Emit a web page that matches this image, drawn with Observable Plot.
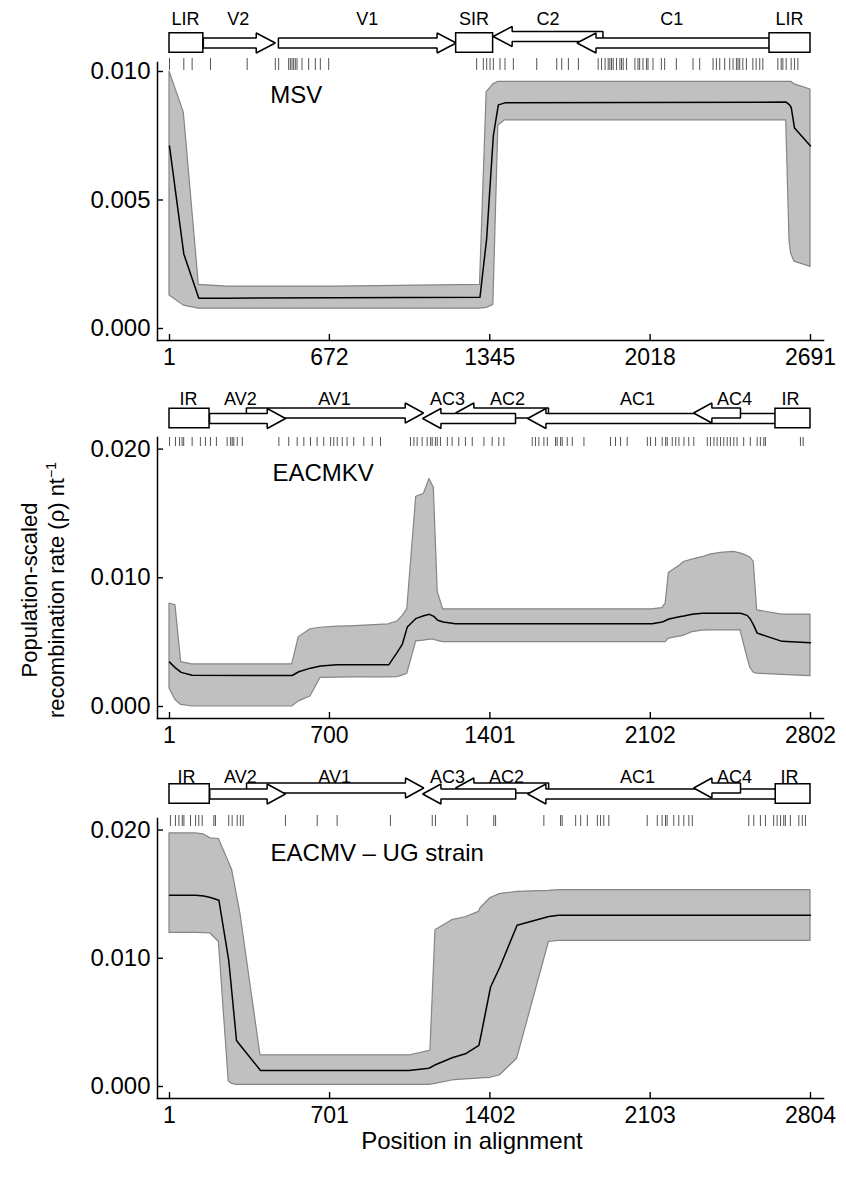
<!DOCTYPE html>
<html><head><meta charset="utf-8">
<script src="https://cdn.jsdelivr.net/npm/d3@7"></script>
<script src="https://cdn.jsdelivr.net/npm/@observablehq/plot@0.6"></script>
<style>
body{margin:0;background:#fff;}
#fig{position:relative;width:846px;height:1180px;font-family:"Liberation Sans",Arial,sans-serif;overflow:hidden;}
#fig svg{position:absolute;left:0;}
.ytitle{position:absolute;left:43px;top:590px;transform:translate(-50%,-50%) rotate(-90deg);text-align:center;white-space:nowrap;font-size:22px;line-height:27px;}
.xtitle{position:absolute;left:472px;top:1141px;transform:translate(-50%,-50%);white-space:nowrap;font-size:24px;}
</style></head><body><div id="fig"></div>
<script>
// ---------------- MSV ----------------
const msvPos = [1, 61, 124, 243, 700, 1304, 1332, 1360, 1381, 1409, 2589, 2603, 2610, 2624, 2691];
const msvRho = [0.0071, 0.0029, 0.00118, 0.00118, 0.0012, 0.00122, 0.0035, 0.0075, 0.0087, 0.00878, 0.00881, 0.0087, 0.0086, 0.0078, 0.0071];
const msvHi  = [0.0100, 0.0084, 0.0017, 0.00163, 0.00163, 0.0017, 0.0092, 0.0095, 0.0096, 0.0096, 0.0096, 0.0096, 0.0096, 0.0095, 0.0093];
const msvLo  = [0.00128, 0.00089, 0.00077, 0.00077, 0.00077, 0.00077, 0.0008, 0.00092, 0.0079, 0.0081, 0.0081, 0.0034, 0.0029, 0.0026, 0.0024];
const msvXTicks = [1, 672, 1345, 2018, 2691];
const msvYTicks = [0, 0.005, 0.010];
const msvGeneNames  = ["LIR", "V2", "V1", "SIR", "C2", "C1", "LIR"];
const msvGeneStart  = [1, 143, 458, 1204, 1359, 1711, 2519];
const msvGeneEnd    = [143, 445, 1204, 1359, 1820, 2519, 2691];
const msvGeneType   = ["box", "fwd", "fwd", "box", "rev", "rev", "box"];
const msvGeneLane   = [0, 0, 0, 0, 1, 0, 0];
const msvGeneLabel  = [68, 290, 831, 1279, 1589, 2109, 2603];
const msvRug = [1,61,96,173,327,445,459,501,508,515,522,529,536,557,585,613,634,669,1290,1318,1332,1346,1360,1388,1409,1444,1542,1626,1647,1675,1717,1800,1814,1829,1842,1849,1856,1863,1877,1891,1898,1905,1919,1954,1967,1974,1988,2003,2009,2030,2065,2079,2128,2198,2226,2282,2296,2310,2331,2352,2366,2380,2387,2394,2407,2422,2449,2463,2478,2491,2554,2568,2575,2589,2610,2624,2638];

// ---------------- EACMKV ----------------
const kvPos = [1, 27, 52, 100, 537, 566, 617, 661, 734, 792, 959, 996, 1018, 1040, 1079, 1112, 1137, 1156, 1173, 1197, 1251, 1448, 2110, 2154, 2169, 2183, 2234, 2249, 2285, 2329, 2365, 2409, 2467, 2496, 2525, 2539, 2554, 2569, 2678, 2802];
const kvRho = [0.00345, 0.0030, 0.00265, 0.00243, 0.00241, 0.0027, 0.00298, 0.00314, 0.00324, 0.00324, 0.00324, 0.0042, 0.00482, 0.00617, 0.00685, 0.00705, 0.00716, 0.0070, 0.0067, 0.00656, 0.00643, 0.00643, 0.00643, 0.00656, 0.00668, 0.0068, 0.0070, 0.00703, 0.00716, 0.00724, 0.00724, 0.00724, 0.00724, 0.00724, 0.00708, 0.0068, 0.0063, 0.0057, 0.00506, 0.00496];
const kvHi  = [0.0080, 0.00786, 0.00345, 0.00327, 0.00327, 0.00539, 0.0060, 0.00612, 0.0062, 0.00623, 0.00638, 0.0066, 0.0070, 0.00755, 0.0163, 0.0165, 0.01767, 0.0170, 0.0089, 0.00755, 0.00755, 0.00755, 0.00755, 0.00765, 0.0080, 0.01037, 0.0110, 0.01123, 0.01141, 0.0116, 0.0118, 0.01193, 0.01201, 0.0119, 0.0117, 0.01157, 0.01123, 0.00747, 0.00714, 0.00714];
const kvLo  = [0.0014, 0.0005, 0.00012, 0.0, 0.0, 0.0004, 0.00078, 0.00223, 0.00225, 0.00226, 0.00227, 0.00228, 0.0024, 0.00254, 0.00506, 0.00512, 0.00519, 0.00519, 0.0051, 0.0050, 0.0050, 0.0050, 0.0050, 0.0050, 0.0050, 0.00527, 0.00545, 0.0055, 0.00578, 0.0059, 0.00591, 0.00591, 0.00591, 0.00591, 0.0039, 0.0030, 0.00262, 0.00255, 0.00245, 0.00236];
const kvXTicks = [1, 700, 1401, 2102, 2802];
const kvYTicks = [0, 0.010, 0.020];
const kvGeneNames = ["IR", "AV1", "AV2", "AC2", "AC3", "AC1", "AC4", "IR"];
const kvGeneStart = [1, 337, 176, 1251, 1107, 1566, 2291, 2649];
const kvGeneEnd   = [176, 1111, 508, 1657, 1513, 2649, 2496, 2802];
const kvGeneType  = ["box", "fwd", "fwd", "rev", "rev", "rev", "rev", "box"];
const kvGeneLane  = [0, 1, 0, 1, 0, 0, 1, 0];
const kvGeneLabel = [84, 722, 311, 1478, 1216, 2046, 2470, 2715];
const kvRug = [1,27,45,56,63,100,136,158,180,206,253,268,275,282,297,319,479,522,559,588,617,646,675,705,719,734,756,777,806,850,887,923,1054,1069,1083,1105,1127,1142,1149,1163,1171,1185,1215,1236,1265,1294,1324,1375,1411,1440,1462,1586,1600,1615,1637,1652,1688,1695,1710,1717,1739,1761,1812,1928,1950,1972,2001,2089,2103,2125,2154,2169,2176,2198,2213,2227,2249,2270,2292,2351,2365,2380,2394,2409,2423,2438,2452,2467,2481,2510,2539,2569,2583,2598,2605,2758,2770];

// ---------------- EACMV - UG strain ----------------
const ugPos = [1, 115, 151, 180, 217, 260, 275, 294, 311, 399, 1048, 1135, 1142, 1164, 1237, 1295, 1354, 1361, 1405, 1445, 1521, 1660, 1703, 2804];
const ugRho = [0.01492, 0.01492, 0.01485, 0.01474, 0.01453, 0.00984, 0.0071, 0.00359, 0.0032, 0.00125, 0.00125, 0.00143, 0.00148, 0.0017, 0.00224, 0.00255, 0.0032, 0.0038, 0.00776, 0.00928, 0.01258, 0.01326, 0.01336, 0.01336];
const ugHi  = [0.01974, 0.01974, 0.01966, 0.01935, 0.0193, 0.0175, 0.01688, 0.0151, 0.01349, 0.00242, 0.00242, 0.00276, 0.00281, 0.01219, 0.01297, 0.0132, 0.01362, 0.0139, 0.0147, 0.0150, 0.01518, 0.01526, 0.01531, 0.01531];
const ugLo  = [0.01198, 0.01198, 0.01196, 0.01193, 0.01127, 0.00039, 0.0002, 0.00013, 0.00013, 0.00013, 0.00013, 0.00013, 0.00015, 0.0002, 0.00047, 0.00055, 0.00062, 0.00063, 0.00068, 0.00086, 0.00216, 0.01127, 0.01135, 0.01135];
const ugXTicks = [1, 701, 1402, 2103, 2804];
const ugYTicks = [0, 0.010, 0.020];
const ugGeneNames = ["IR", "AV1", "AV2", "AC2", "AC3", "AC1", "AC4", "IR"];
const ugGeneStart = [1, 338, 177, 1252, 1108, 1567, 2293, 2652];
const ugGeneEnd   = [177, 1113, 508, 1659, 1515, 2652, 2498, 2804];
const ugGeneType  = ["box", "fwd", "fwd", "rev", "rev", "rev", "rev", "box"];
const ugGeneLane  = [0, 1, 0, 1, 0, 0, 1, 0];
const ugGeneLabel = [75, 723, 311, 1475, 1217, 2048, 2472, 2712];
const ugRug = [5,27,42,57,64,93,115,129,144,195,202,260,275,297,311,323,508,647,734,967,1150,1164,1303,1419,1427,1638,1711,1718,1777,1799,1828,1872,1886,1900,1922,2090,2134,2155,2170,2177,2206,2228,2250,2272,2287,2534,2556,2585,2607,2643,2658,2673,2687,2694,2716,2753,2768,2782];

// panel titles: [label, x (alignment position), y (rho)]
const panelTitles = [
  ["MSV", 424, 0.00907],
  ["EACMKV", 451, 0.01813],
  ["EACMV \u2013 UG strain", 443, 0.0182]
];

// ---------------- drawing ----------------
const FONT = "'Liberation Sans', Arial, Helvetica, sans-serif";
const fig = document.getElementById("fig");

const panels = [
  {pos: msvPos, rho: msvRho, hi: msvHi, lo: msvLo, xt: msvXTicks, yt: msvYTicks, title: panelTitles[0],
   names: msvGeneNames, starts: msvGeneStart, ends: msvGeneEnd, types: msvGeneType, lanes: msvGeneLane, labels: msvGeneLabel, rug: msvRug,
   top: 0, height: 380, mt: 62, mb: 40, ymax: 0.01035,
   mapTop: 0, lower: 42.5, upper: 36, labelY: 19, rug1: 58, rug2: 70},
  {pos: kvPos, rho: kvRho, hi: kvHi, lo: kvLo, xt: kvXTicks, yt: kvYTicks, title: panelTitles[1],
   names: kvGeneNames, starts: kvGeneStart, ends: kvGeneEnd, types: kvGeneType, lanes: kvGeneLane, labels: kvGeneLabel, rug: kvRug,
   top: 380, height: 380, mt: 57, mb: 42, ymax: 0.0209,
   mapTop: 380, lower: 38, upper: 32.5, labelY: 18.5, rug1: 57, rug2: 66},
  {pos: ugPos, rho: ugRho, hi: ugHi, lo: ugLo, xt: ugXTicks, yt: ugYTicks, title: panelTitles[2],
   names: ugGeneNames, starts: ugGeneStart, ends: ugGeneEnd, types: ugGeneType, lanes: ugGeneLane, labels: ugGeneLabel, rug: ugRug,
   top: 760, height: 420, mt: 58, mb: 82, ymax: 0.0209,
   mapTop: 760, lower: 33.5, upper: 27.5, labelY: 17, rug1: 55, rug2: 66}
];

const HEAD = 80;      // arrow head length in alignment positions
const SHAFT = 5;      // half shaft height (px)
const HEADH = 10;     // half head height (px)
const BOXH = 9.75;    // half box height (px)

for (const p of panels) {
  const xmax = p.xt[p.xt.length - 1];
  const data = p.pos.map((x, i) => ({pos: x, rho: p.rho[i], lo: p.lo[i], hi: p.hi[i]}));
  const chart = Plot.plot({
    width: 846, height: p.height,
    marginLeft: 157, marginRight: 23, marginTop: p.mt, marginBottom: p.mb,
    x: {domain: [1, xmax], insetLeft: 12, insetRight: 13},
    y: {domain: [0, p.ymax], insetBottom: 12},
    style: {fontFamily: FONT, fontSize: "23px", background: "none", color: "black", overflow: "visible"},
    marks: [
      Plot.areaY(data, {x: "pos", y1: "lo", y2: "hi", fill: "#c0c0c0", stroke: "#858585", strokeWidth: 1.2}),
      Plot.line(data, {x: "pos", y: "rho", stroke: "black", strokeWidth: 1.5}),
      Plot.text([p.title], {x: d => d[1], y: d => d[2], text: d => d[0], textAnchor: "start", fontSize: 24, fill: "black"}),
      Plot.frame({anchor: "left", stroke: "black", strokeWidth: 1.5}),
      Plot.frame({anchor: "bottom", stroke: "black", strokeWidth: 1.5}),
      Plot.axisX(p.xt, {tickSize: -6, tickFormat: () => "", label: null, strokeWidth: 1.4}),
      Plot.axisX(p.xt, {tickSize: 0, tickPadding: 8, label: null, tickFormat: d3.format("d")}),
      Plot.axisY(p.yt, {tickSize: -6, tickFormat: () => "", label: null, strokeWidth: 1.4}),
      Plot.axisY(p.yt, {tickSize: 0, tickPadding: 7, label: null, fontSize: 24, tickFormat: d3.format(".3f")})
    ]
  });
  chart.style.top = p.top + "px";
  fig.appendChild(chart);
}

for (const p of panels) {
  const xmax = p.xt[p.xt.length - 1];
  const genes = p.names.map((n, i) => ({name: n, start: p.starts[i], end: p.ends[i], type: p.types[i], lane: p.lanes[i], label: p.labels[i]}));
  const geneMarks = [];
  genes.forEach((g) => {
    const c = g.lane ? p.upper : p.lower;
    if (g.type === "box") {
      geneMarks.push(Plot.rect([g], {x1: "start", x2: "end", y1: () => p.lower - BOXH, y2: () => p.lower + BOXH, fill: "white", stroke: "black", strokeWidth: 1.5}));
    } else {
      let pts;
      if (g.type === "fwd") {
        const b = g.end - HEAD;
        pts = [[g.start, c - SHAFT], [b, c - SHAFT], [b, c - HEADH], [g.end, c], [b, c + HEADH], [b, c + SHAFT], [g.start, c + SHAFT]];
      } else {
        const b = g.start + HEAD;
        pts = [[g.end, c - SHAFT], [b, c - SHAFT], [b, c - HEADH], [g.start, c], [b, c + HEADH], [b, c + SHAFT], [g.end, c + SHAFT]];
      }
      geneMarks.push(Plot.line(pts, {x: d => d[0], y: d => d[1], curve: "linear-closed", fill: "white", stroke: "black", strokeWidth: 1.5, strokeLinejoin: "miter"}));
    }
  });
  const map = Plot.plot({
    width: 846, height: 80,
    marginLeft: 157, marginRight: 23, marginTop: 0, marginBottom: 0,
    x: {domain: [1, xmax], insetLeft: 12, insetRight: 13, axis: null},
    y: {domain: [0, 80], range: [0, 80], axis: null},
    style: {fontFamily: FONT, fontSize: "18px", background: "none", color: "black", overflow: "visible"},
    marks: [
      Plot.ruleX(p.rug, {x: d => d, y1: () => p.rug1, y2: () => p.rug2, stroke: "#555", strokeWidth: 1}),
      ...geneMarks,
      Plot.text(genes, {x: "label", y: () => p.labelY, text: "name", fontSize: 18, textAnchor: "middle", fill: "black"})
    ]
  });
  map.style.top = p.mapTop + "px";
  fig.appendChild(map);
}

const yt = document.createElement("div");
yt.className = "ytitle";
yt.innerHTML = "Population-scaled<br>recombination rate (\u03c1) nt<sup style='font-size:14px;line-height:0'>\u22121</sup>";
fig.appendChild(yt);
const xtl = document.createElement("div");
xtl.className = "xtitle";
xtl.textContent = "Position in alignment";
fig.appendChild(xtl);
</script></body></html>
